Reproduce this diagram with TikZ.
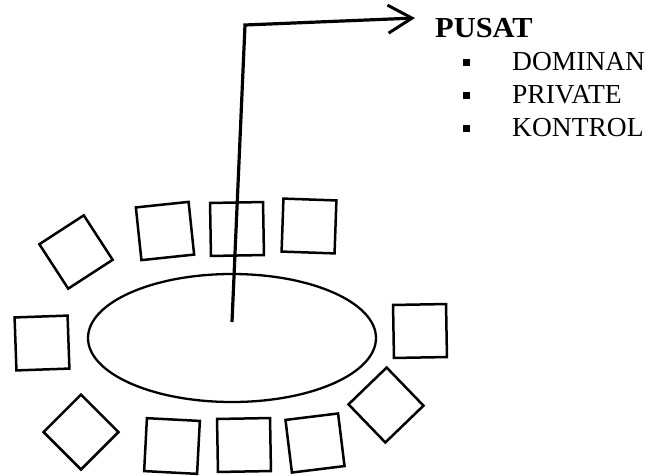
\documentclass[tikz,border=0pt]{standalone}
\usepackage{fontspec}
\setmainfont{Liberation Serif}
\usetikzlibrary{shapes.geometric,arrows.meta}
\tikzset{
  seat/.style={draw, line width=2.5pt, rectangle, minimum size=53pt, inner sep=0pt},
  tablebox/.style={draw, line width=2.3pt, ellipse, minimum width=288pt, minimum height=128pt, inner sep=0pt},
  pointer/.style={line width=3.2pt, -{Straight Barb[length=24pt,width=28pt,line width=3pt]}},
  title/.style={font=\fontsize{29pt}{29pt}\selectfont\bfseries, inner sep=0pt, anchor=base west, xscale=1.05},
  item/.style={font=\fontsize{27.5pt}{27.5pt}\selectfont, inner sep=0pt, anchor=base west},
  dot/.style={fill, minimum size=7pt, inner sep=0pt, rectangle}
}
\begin{document}
\begin{tikzpicture}[x=1pt,y=1pt]
\useasboundingbox (0,0) rectangle (651,-475);
% table
\node[tablebox] (table) at (232,-338) {};
% seats
\node[seat, rotate=33] (s1) at (76,-252) {};
\node[seat, rotate=6] (s2) at (165,-231) {};
\node[seat, rotate=1] (s3) at (237,-229) {};
\node[seat, rotate=-2] (s4) at (309,-226) {};
\node[seat, rotate=2] (s5) at (42,-343) {};
\node[seat, rotate=1] (s6) at (420,-331) {};
\node[seat, rotate=45] (s7) at (81,-432) {};
\node[seat, rotate=-3] (s8) at (172,-446) {};
\node[seat, rotate=1] (s9) at (244,-445) {};
\node[seat, rotate=7] (s10) at (315,-443) {};
\node[seat, rotate=44] (s11) at (386,-405) {};
% text
\node[title] (pusat) at (435,-37) {PUSAT};
\node[item] (i1) at (512,-70) {DOMINAN};
\node[item] (i2) at (512,-103) {PRIVATE};
\node[item] (i3) at (512,-136) {KONTROL};
\node[dot] (d1) at (466,-62) {};
\node[dot] (d2) at (466,-95) {};
\node[dot] (d3) at (466,-128) {};
% arrow
\coordinate (start) at (232,-322);
\coordinate (corner) at (245,-25);
\coordinate (tip) at (415,-18);
\draw[pointer] (start) -- (corner) -- (tip);
\end{tikzpicture}
\end{document}
